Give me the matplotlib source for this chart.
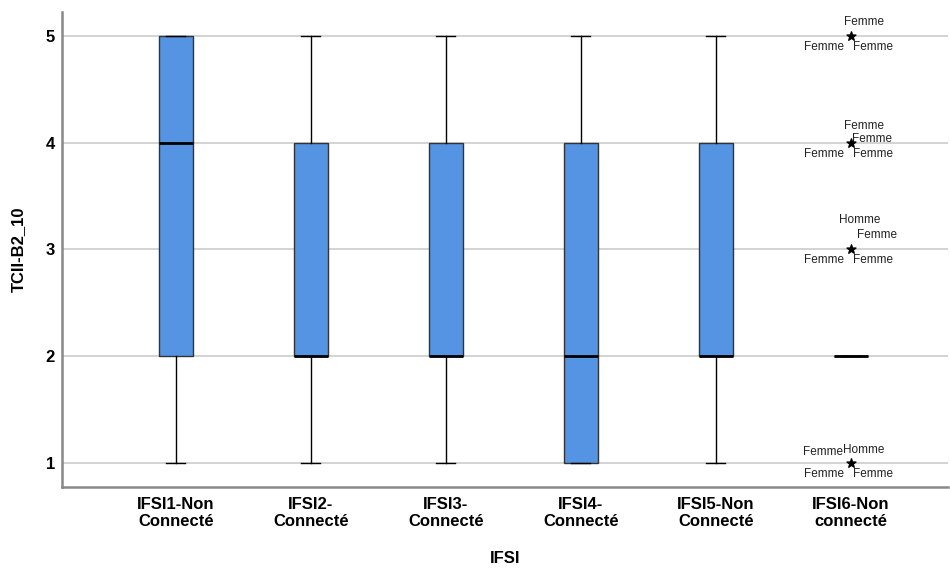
import matplotlib.pyplot as plt

plt.rcParams['font.family'] = ['Liberation Sans', 'DejaVu Sans']

# Data
groups = ["IFSI1-Non\nConnecté", "IFSI2-\nConnecté", "IFSI3-\nConnecté",
          "IFSI4-\nConnecté", "IFSI5-Non\nConnecté", "IFSI6-Non\nconnecté"]
whis_low = [1, 1, 1, 1, 1, 2]
q1 = [2, 2, 2, 1, 2, 2]
medians = [4, 2, 2, 2, 2, 2]
q3 = [5, 4, 4, 4, 4, 2]
whis_high = [5, 5, 5, 5, 5, 2]

# extreme values of IFSI6 and their case labels
outlier_values = [5, 4, 3, 1]
outlier_labels = [
    ["Femme", "Femme", "Femme"],
    ["Femme", "Femme", "Femme", "Femme"],
    ["Homme", "Femme", "Femme", "Femme"],
    ["Femme", "Homme", "Femme", "Femme"],
]
# label offsets in pixels (dx, dy) relative to the star
label_offsets = [
    [(13, 14), (-27, -11), (22, -11)],
    [(13, 17), (21, 4), (-27, -11), (22, -11)],
    [(9, 29), (26, 14), (-27, -11), (22, -11)],
    [(-28, 11), (13, 13), (-27, -11), (22, -11)],
]

stats = []
for i in range(len(groups)):
    stats.append({"whislo": whis_low[i], "q1": q1[i], "med": medians[i],
                  "q3": q3[i], "whishi": whis_high[i], "fliers": []})

fig = plt.figure(figsize=(9.5, 5.69), dpi=100)
ax = fig.add_axes([62 / 950, 1 - 487 / 569, 886 / 950, 475 / 569])

pos = list(range(1, len(groups) + 1))
ax.bxp(stats, positions=pos, widths=0.255, patch_artist=True,
       boxprops=dict(facecolor="#5593e3", edgecolor="#333333", linewidth=1),
       medianprops=dict(color="black", linewidth=2),
       whiskerprops=dict(color="black", linewidth=1),
       capprops=dict(color="black", linewidth=1), capwidths=0.14,
       zorder=3)

# outliers shown as stars
x6 = pos[-1]
ax.scatter([x6] * len(outlier_values), outlier_values, marker="*",
           s=45, color="black", zorder=4)

px = 0.72
for val, labs, offs in zip(outlier_values, outlier_labels, label_offsets):
    for lab, (dx, dy) in zip(labs, offs):
        ax.annotate(lab, (x6, val), xytext=(dx * px, dy * px),
                    textcoords="offset points", ha="center", va="center",
                    fontsize=8.5, color="#222222")

ax.set_xlim(0.156, 6.72)
ax.set_ylim(0.775, 5.225)
ax.set_yticks([1, 2, 3, 4, 5])
ax.set_xticks(pos)
ax.set_xticklabels(groups, fontsize=12, fontweight="bold", linespacing=1.2)
ax.tick_params(axis="y", labelsize=12, length=0, pad=5)
ax.tick_params(axis="x", length=0, pad=7)
for t in ax.get_yticklabels():
    t.set_fontweight("bold")

ax.grid(axis="y", color="#cccccc", linewidth=1.2, zorder=0)
ax.set_axisbelow(True)
for side in ["top", "right"]:
    ax.spines[side].set_visible(False)
for side in ["left", "bottom"]:
    ax.spines[side].set_color("#888888")
    ax.spines[side].set_linewidth(1.8)

ax.set_ylabel("TCII-B2_10", fontsize=12, fontweight="bold", labelpad=14)
ax.set_xlabel("IFSI", fontsize=12, fontweight="bold", labelpad=16)

plt.savefig("out.png", dpi=100)
